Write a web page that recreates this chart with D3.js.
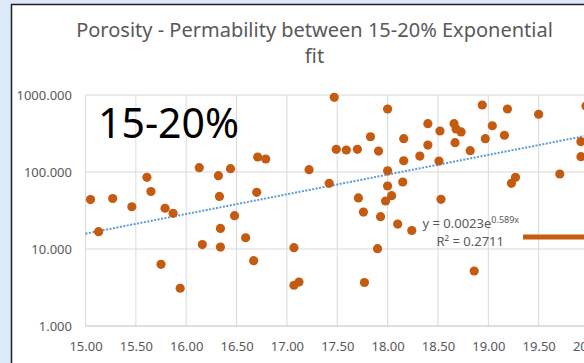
<!DOCTYPE html>
<html>
<head>
<meta charset="utf-8">
<script src="https://cdn.jsdelivr.net/npm/d3@7"></script>
<style>
  html, body { margin: 0; padding: 0; background: #dbe9f8; }
  svg { display: block; font-family: "Noto Sans", sans-serif; }
</style>
</head>
<body>
<div id="chart"></div>
<script>
// porosity (%) vs permeability (mD)
const porosity = [
  15.05, 15.27, 15.46, 15.61, 15.65, 15.79, 15.87, 15.13, 15.75, 15.94,
  16.13, 16.32, 16.44, 16.33, 16.71, 16.79, 16.70, 16.48, 16.34, 16.16,
  16.34, 16.59, 16.67, 17.07, 17.07, 17.12, 17.22, 17.42, 17.47, 17.49,
  17.59, 17.70, 17.83, 17.91, 18.00, 17.71, 17.76, 17.93, 18.00, 18.00,
  17.98, 17.77, 17.90, 18.16, 18.40, 18.40, 18.32, 18.16, 18.15, 18.04,
  18.52, 18.66, 18.68, 18.73, 18.67, 18.51, 18.82, 18.53, 18.94, 19.04,
  18.97, 19.19, 19.16, 19.50, 19.27, 19.23, 19.71, 19.92, 19.92, 19.97,
  18.10, 18.24, 18.86
];
const permeability = [
  43.9, 45.3, 35.4, 85.4, 55.8, 33.8, 29.1, 16.8, 6.33, 3.09,
  113.7, 89.5, 110.4, 48.1, 156.6, 147.5, 54.5, 27.1, 18.5, 11.4,
  10.6, 14.0, 7.05, 10.4, 3.38, 3.73, 107.2, 71.3, 933, 197,
  193, 197, 287, 187, 658, 46.0, 30.2, 26.3, 103.7, 65.8,
  42.0, 3.67, 10.1, 271, 424, 224, 161, 140, 74.1, 49.2,
  341, 424, 362, 331, 240, 139, 189, 44.2, 742, 399,
  271, 658, 300, 562, 85.4, 71.3, 94.2, 248, 158, 720,
  21.1, 17.4, 5.18
];
const xTicks = [15, 15.5, 16, 16.5, 17, 17.5, 18, 18.5, 19, 19.5, 20];
const yTicks = [1, 10, 100, 1000];
// exponential trendline y = a * e^(b x)
const fitA = 0.0023;
const fitB = 0.589;
const fitRange = [15, 20];

const width = 584;
const height = 363;

const svg = d3.select('#chart')
  .append('svg')
  .attr('width', width)
  .attr('height', height);

// white chart panel with the dark frame line on top/left
svg.append('rect')
  .attr('x', 12).attr('y', 5)
  .attr('width', width - 12).attr('height', height - 5)
  .attr('fill', '#fff');
svg.append('path')
  .attr('d', `M11.5,${height}V4.5H${width}`)
  .attr('fill', 'none')
  .attr('stroke', '#222')
  .attr('stroke-width', 1.5);

const x = d3.scaleLinear().domain([15, 20]).range([85.5, 589]);
const y = d3.scaleLog().domain([1, 1000]).range([326, 95]);

// gridlines
svg.append('g')
  .selectAll('line.vx')
  .data(xTicks)
  .join('line')
  .attr('x1', (d) => x(d)).attr('x2', (d) => x(d))
  .attr('y1', y(1)).attr('y2', y(1000))
  .attr('stroke', '#d9d9d9');
svg.append('g')
  .selectAll('line.hy')
  .data(yTicks)
  .join('line')
  .attr('x1', x(15)).attr('x2', width)
  .attr('y1', (d) => y(d)).attr('y2', (d) => y(d))
  .attr('stroke', (d) => (d === 1 ? '#bfbfbf' : '#d9d9d9'));

// axes labels
const yAxis = svg.append('g')
  .attr('transform', `translate(${x(15)},0)`)
  .call(d3.axisLeft(y).tickValues(yTicks).tickFormat(d3.format('.3f')).tickSize(0).tickPadding(13.5));
const xAxis = svg.append('g')
  .attr('transform', `translate(0,${y(1)})`)
  .call(d3.axisBottom(x).tickValues(xTicks).tickFormat(d3.format('.2f')).tickSize(0).tickPadding(15.8));
[xAxis, yAxis].forEach((g) => {
  g.select('.domain').remove();
  g.selectAll('text')
    .attr('fill', '#595959')
    .style('font-size', '13px')
    .style('font-family', '"Noto Sans", sans-serif');
});

// title
const title = svg.append('text')
  .attr('text-anchor', 'middle')
  .attr('fill', '#595959')
  .style('font-size', '20px');
title.append('tspan').attr('x', 314.5).attr('y', 37)
  .text('Porosity - Permability between 15-20% Exponential');
title.append('tspan').attr('x', 314.5).attr('y', 63).text('fit');

// big annotation
svg.append('text')
  .attr('x', 98).attr('y', 138)
  .attr('fill', '#000')
  .style('font-size', '41px')
  .text('15-20%');

// trendline
const fitPts = fitRange.map((v) => [v, fitA * Math.exp(fitB * v)]);
svg.append('path')
  .datum(fitPts)
  .attr('d', d3.line().x((d) => x(d[0])).y((d) => y(d[1])))
  .attr('fill', 'none')
  .attr('stroke', '#5b9bd5')
  .attr('stroke-width', 2)
  .attr('stroke-dasharray', '2 1.5');

// points
const pts = porosity.map((p, i) => ({ p, k: permeability[i] }));
svg.append('g')
  .selectAll('circle')
  .data(pts)
  .join('circle')
  .attr('cx', (d) => x(d.p))
  .attr('cy', (d) => y(d.k))
  .attr('r', 4.6)
  .attr('fill', '#c55a11');

// equation label
const eq = svg.append('text')
  .attr('fill', '#595959')
  .style('font-size', '13px');
eq.append('tspan').attr('x', 422.5).attr('y', 228).text('y = 0.0023e');
eq.append('tspan').attr('dy', -5).style('font-size', '9px').text('0.589x');
svg.append('text')
  .attr('x', 436.5).attr('y', 246)
  .attr('fill', '#595959')
  .style('font-size', '13px')
  .text('R² = 0.2711');

// orange marker bar on the right
svg.append('rect')
  .attr('x', 523).attr('y', 234.5)
  .attr('width', width - 523).attr('height', 5)
  .attr('fill', '#c55a11');
</script>
</body>
</html>
